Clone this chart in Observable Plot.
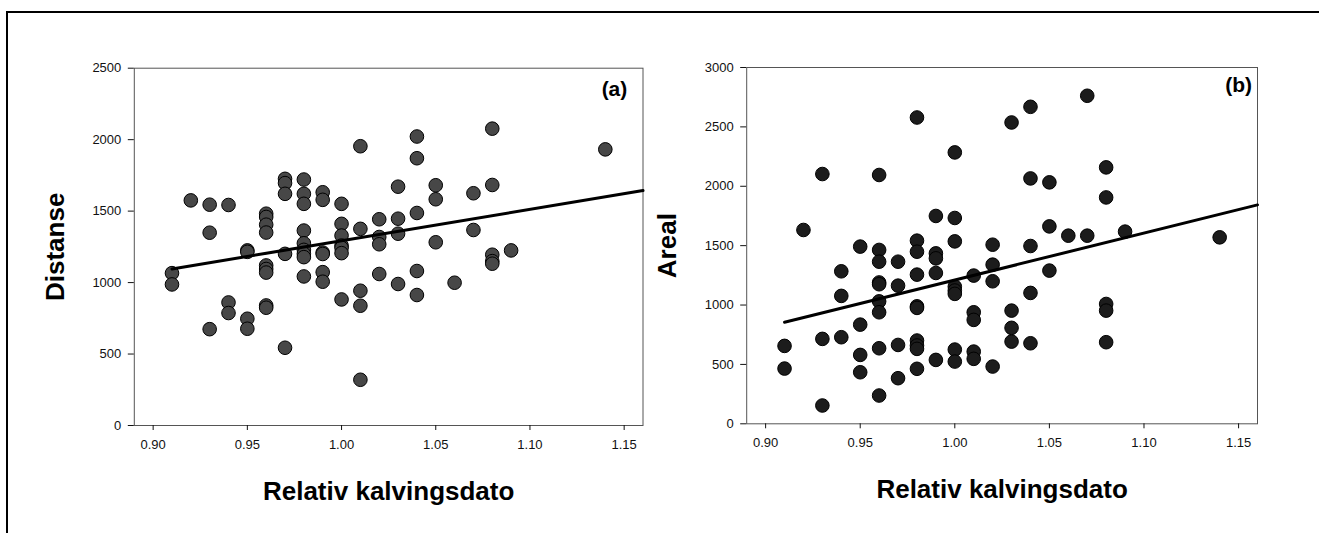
<!DOCTYPE html>
<html><head><meta charset="utf-8">
<script src="https://cdn.jsdelivr.net/npm/d3@7"></script>
<script src="https://cdn.jsdelivr.net/npm/@observablehq/plot@0.6"></script>
<style>
html,body{margin:0;padding:0;background:#fff;overflow:hidden;}
#wrap{position:relative;width:1319px;height:533px;font-family:"Liberation Sans",Arial,sans-serif;}
#border{position:absolute;left:6px;top:11px;width:1330px;height:540px;border-top:2px solid #000;border-left:2px solid #000;}
.panel{position:absolute;top:0;}
</style></head><body>
<div id="wrap"><div id="border"></div><div id="pa" class="panel" style="left:0"></div><div id="pb" class="panel" style="left:660px"></div></div>
<script>
const xTicks = [0.90, 0.95, 1.00, 1.05, 1.10, 1.15];
const yTicksA = [0, 500, 1000, 1500, 2000, 2500];
const yTicksB = [0, 500, 1000, 1500, 2000, 2500, 3000];
const xTitle = "Relativ kalvingsdato";

// Panel (a): Distanse
const distX = [0.91,0.91,0.92,0.93,0.93,0.93,0.94,0.94,0.94,0.95,0.95,0.95,0.95,0.96,0.96,0.96,0.96,0.96,0.96,0.96,0.96,0.96,0.97,0.97,0.97,0.97,0.97,0.98,0.98,0.98,0.98,0.98,0.98,0.98,0.98,0.98,0.99,0.99,0.99,0.99,0.99,0.99,1.00,1.00,1.00,1.00,1.00,1.00,1.00,1.01,1.01,1.01,1.01,1.01,1.02,1.02,1.02,1.02,1.03,1.03,1.03,1.03,1.04,1.04,1.04,1.04,1.04,1.05,1.05,1.05,1.06,1.07,1.07,1.08,1.08,1.08,1.08,1.08,1.09,1.14];
const distanse = [1066,987, 1575, 1545,1349,674, 1543,861,787, 1225,1215,747,677, 1482,1459,1405,1350,1120,1095,1070,840,824, 1726,1696,1621,1201,544, 1721,1621,1551,1364,1275,1229,1201,1178,1043, 1632,1579,1210,1200,1073,1006, 1551,1411,1329,1259,1243,1206,882, 1954,1376,943,838,320, 1443,1319,1268,1060, 1671,1447,1342,990, 2022,1870,1487,1081,913, 1681,1583,1282, 999, 1625,1368, 2077,1683,1195,1150,1132, 1225, 1932];

// Panel (b): Areal
const arealX = [0.91,0.91,0.92,0.93,0.93,0.93,0.94,0.94,0.94,0.95,0.95,0.95,0.95,0.96,0.96,0.96,0.96,0.96,0.96,0.96,0.96,0.96,0.97,0.97,0.97,0.97,0.98,0.98,0.98,0.98,0.98,0.98,0.98,0.98,0.98,0.98,0.99,0.99,0.99,0.99,0.99,1.00,1.00,1.00,1.00,1.00,1.00,1.00,1.00,1.01,1.01,1.01,1.01,1.01,1.02,1.02,1.02,1.02,1.03,1.03,1.03,1.03,1.04,1.04,1.04,1.04,1.04,1.05,1.05,1.05,1.06,1.07,1.07,1.08,1.08,1.08,1.08,1.08,1.09,1.14];
const areal = [656,465, 1632, 2103,715,154, 1284,1077,729, 1492,835,580,434, 2095,1464,1365,1190,1175,1031,939,636,238, 1365,1163,664,384, 2579,1542,1449,1256,989,976,701,659,631,463, 1750,1435,1393,1270,538, 2285,1733,1536,1155,1122,1094,625,524, 1248,939,875,608,547, 1508,1340,1200,482, 2537,953,808,692, 2669,2066,1497,1102,678, 2033,1662,1290, 1584, 2762,1584, 2159,1906,1009,953,687, 1618, 1570];

// Fitted regression lines
const fitX = [0.91, 1.16];
const fitDist = [1095, 1644];
const fitAreal = [855, 1843];

function panel(o) {
  const pts = o.xs.map((x, i) => ({x, y: o.ys[i]}));
  const fit = fitX.map((x, i) => ({x, y: o.fitY[i]}));
  return Plot.plot({
    width: o.width, height: 533,
    marginLeft: o.mL, marginRight: o.mR, marginTop: o.mT, marginBottom: o.mB,
    style: {fontFamily: "'Liberation Sans', Arial, sans-serif", fontSize: "13px", color: "#111", background: "transparent", overflow: "visible"},
    x: {domain: [0.89, 1.16]},
    y: {domain: o.yDomain},
    marks: [
      Plot.frame({stroke: "#555", strokeWidth: 1}),
      Plot.axisX({ticks: xTicks, tickFormat: d3.format(".2f"), tickSize: 5, tickPadding: 9, label: null, fontSize: 13}),
      Plot.axisY({ticks: o.yTicks, tickFormat: d => String(d), tickSize: 6, tickPadding: 7, label: null, fontSize: 13}),
      Plot.dot(pts, {x: "x", y: "y", r: 6.8, fill: o.fill, stroke: "#000", strokeWidth: 1}),
      Plot.line(fit, {x: "x", y: "y", stroke: "#000", strokeWidth: 3}),
      Plot.text([o.yLabel], {text: d => d, frameAnchor: "left", rotate: -90, dx: -79, fontSize: 26, fontWeight: "bold", textAnchor: "middle", lineAnchor: "middle", fill: "#000"}),
      Plot.text([xTitle], {text: d => d, frameAnchor: "bottom", dy: o.titleDy, fontSize: 26, fontWeight: "bold", textAnchor: "middle", lineAnchor: "middle", fill: "#000"}),
      Plot.text([o.tag], {text: d => d, frameAnchor: "top-right", textAnchor: "end", lineAnchor: "middle", dx: o.tagDx, dy: o.tagDy, fontSize: 21, fontWeight: "bold", fill: "#000"})
    ]
  });
}

document.getElementById("pa").append(panel({
  xs: distX, ys: distanse, fitY: fitDist, yTicks: yTicksA, yDomain: [0, 2500],
  yLabel: "Distanse", tag: "(a)", fill: "#474747",
  width: 660, mL: 133.8, mR: 17.5, mT: 67.7, mB: 108, titleDy: 66, tagDx: -15.7, tagDy: 21
}));
document.getElementById("pb").append(panel({
  xs: arealX, ys: areal, fitY: fitAreal, yTicks: yTicksB, yDomain: [0, 3000],
  yLabel: "Areal", tag: "(b)", fill: "#1c1c1c",
  width: 659, mL: 86.2, mR: 62, mT: 67, mB: 109.7, titleDy: 66, tagDx: -5.5, tagDy: 18
}));
</script>
</body></html>
